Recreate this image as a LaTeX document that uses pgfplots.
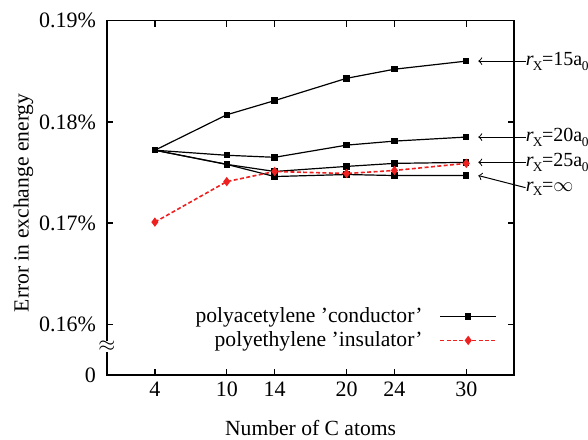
\documentclass[border=0pt]{standalone}
\usepackage{fontspec}
\setmainfont{Liberation Serif}
\usepackage{pgfplots}
\pgfplotsset{compat=1.18}
\newcommand{\myfont}{\fontsize{10.8}{12.6}\selectfont}
\newcommand{\tickfont}{\fontsize{11}{12.6}\selectfont}
\newcommand{\annfont}{\fontsize{10}{12}\selectfont}
\newcommand{\sub}[1]{\raisebox{-2.2pt}{\fontsize{6.7}{7}\selectfont #1}}
\newcommand{\rx}{\textit{r}\kern-0.5pt\sub{X}\kern-0.2pt=}
\definecolor{myred}{RGB}{238,32,32}
\begin{document}
\begin{tikzpicture}[font=\myfont]
\begin{axis}[
  scale only axis, width=203.6pt, height=177.2pt,
  xmin=0, xmax=34, ymin=0.155, ymax=0.19,
  xtick={4,10,14,20,24,30},
  ytick={0.155,0.16,0.17,0.18,0.19},
  yticklabels={0,0.16\%,0.17\%,0.18\%,0.19\%},
  /pgf/number format/assume math mode=true,
  tick align=inside, major tick length=3pt,
  axis line style={line width=0.8pt},
  tick style={line width=0.7pt, black},
  tick label style={font=\tickfont},
  yticklabel style={xshift=-2pt},
  label style={font=\myfont},
  xlabel={Number of C atoms},
  ylabel={Error in exchange energy},
  xlabel style={at={(axis description cs:0.5,-0.15)}, anchor=center},
  ylabel style={at={(axis description cs:-0.205,0.486)}, anchor=center},
  clip=false,
  legend cell align=right,
  legend plot pos=right,
  legend style={draw=none, fill=none, font=\myfont, at={(axis cs:32.6,0.1596)}, anchor=east, inner sep=0pt, row sep=0pt, column sep=7pt, nodes={inner sep=1.5pt}},
  legend image code/.code={\draw[mark repeat=2,mark phase=2,#1] plot coordinates {(0pt,0pt) (14pt,0pt) (28pt,0pt)};},
]
% r_X = infinity
\addplot[black, line width=0.6pt, mark=square*, mark size=1.3pt] coordinates {
(4,0.1772) (10,0.1758) (14,0.1746) (20,0.1748) (24,0.1747) (30,0.1747)};
\addlegendentry{polyacetylene 'conductor'}
% r_X = 15
\addplot[black, line width=0.6pt, mark=square*, mark size=1.3pt, forget plot] coordinates {
(4,0.1772) (10,0.1807) (14,0.1821) (20,0.1843) (24,0.1852) (30,0.1860)};
% r_X = 20
\addplot[black, line width=0.6pt, mark=square*, mark size=1.3pt, forget plot] coordinates {
(4,0.1772) (10,0.1767) (14,0.1765) (20,0.1777) (24,0.1781) (30,0.1785)};
% r_X = 25
\addplot[black, line width=0.6pt, mark=square*, mark size=1.3pt, forget plot] coordinates {
(4,0.1772) (10,0.1758) (14,0.1751) (20,0.1756) (24,0.1759) (30,0.1760)};
% polyethylene
\addplot[myred, line width=0.8pt, dash pattern=on 2pt off 1.2pt, mark=diamond*, mark size=1.7pt, mark options={solid}] coordinates {
(4,0.1701) (10,0.1741) (14,0.1751) (20,0.1749) (24,0.1752) (30,0.1759)};
\addlegendentry{polyethylene 'insulator'}

% annotations
\draw[->, line width=0.5pt] (axis cs:34.95,0.1860) -- (axis cs:31,0.1860);
\draw[->, line width=0.5pt] (axis cs:34.95,0.1785) -- (axis cs:31,0.1785);
\draw[->, line width=0.5pt] (axis cs:34.95,0.1760) -- (axis cs:31,0.1760);
\draw[->, line width=0.5pt] (axis cs:34.95,0.1735) -- (axis cs:31,0.1747);
\node[anchor=mid west, inner sep=0pt, font=\annfont] at (axis cs:34.95,0.1860) {\rx15a\kern-0.2pt\sub{0}};
\node[anchor=mid west, inner sep=0pt, font=\annfont] at (axis cs:34.95,0.1785) {\rx20a\kern-0.2pt\sub{0}};
\node[anchor=mid west, inner sep=0pt, font=\annfont] at (axis cs:34.95,0.1760) {\rx25a\kern-0.2pt\sub{0}};
\node[anchor=mid west, inner sep=0pt, font=\annfont] at (axis cs:34.95,0.1736) {\rx$\infty$};
% axis break
\node[fill=white, inner sep=0pt] at (axis cs:0,0.1578) {$\approx$};
\end{axis}
\pgfresetboundingbox
\path (current axis.south west) ++(-53.5pt,-32pt) rectangle ++(294pt,219.5pt);
\end{tikzpicture}
\end{document}
